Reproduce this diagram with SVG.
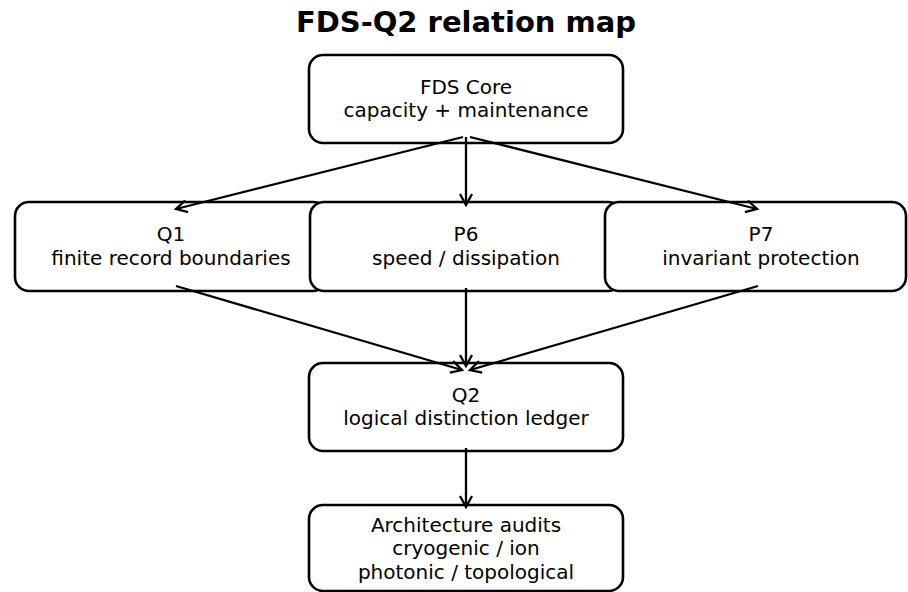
<svg xmlns="http://www.w3.org/2000/svg" width="908" height="592" viewBox="0 0 908 592">
<style>
.box{fill:#fff;stroke:#000;stroke-width:2.6}
.t{font-family:"DejaVu Sans",sans-serif;font-size:20px;text-anchor:middle;fill:#000}
.e{stroke:#000;stroke-width:2.3;fill:none;marker-end:url(#a)}
</style>
<defs>
<marker id="a" viewBox="-12 -7 14 14" refX="0" refY="0" markerWidth="14" markerHeight="14" markerUnits="userSpaceOnUse" orient="auto">
<path d="M-11,-6 L0,0 L-11,6" fill="none" stroke="#000" stroke-width="2.3"/>
</marker>
</defs>
<rect width="908" height="592" fill="#fff"/>
<text x="466" y="32" style="font-family:'DejaVu Sans',sans-serif;font-size:29px;font-weight:bold;text-anchor:middle">FDS-Q2 relation map</text>
<g id="core"><rect class="box" x="309" y="55" width="314" height="88" rx="14"/><text class="t" x="466" y="94">FDS Core</text><text class="t" x="466" y="117">capacity + maintenance</text></g>
<g id="q1"><rect class="box" x="15" y="202" width="312" height="89" rx="14"/><text class="t" x="171" y="241">Q1</text><text class="t" x="171" y="265">finite record boundaries</text></g>
<g id="p6"><rect class="box" x="310" y="202" width="312" height="89" rx="14"/><text class="t" x="466" y="241">P6</text><text class="t" x="466" y="265">speed / dissipation</text></g>
<g id="p7"><rect class="box" x="605" y="202" width="301" height="89" rx="14"/><text class="t" x="761" y="241">P7</text><text class="t" x="761" y="265">invariant protection</text></g>
<g id="q2"><rect class="box" x="309" y="363" width="314" height="88" rx="14"/><text class="t" x="466" y="402">Q2</text><text class="t" x="466" y="425">logical distinction ledger</text></g>
<g id="arch"><rect class="box" x="309" y="505" width="314" height="86" rx="14"/><text class="t" x="466" y="532">Architecture audits</text><text class="t" x="466" y="555">cryogenic / ion</text><text class="t" x="466" y="579">photonic / topological</text></g>
<g id="edges">
<line class="e" x1="463" y1="137" x2="176" y2="209"/>
<line class="e" x1="466" y1="137" x2="466" y2="205"/>
<line class="e" x1="470" y1="137" x2="757" y2="209"/>
<line class="e" x1="176" y1="286" x2="462" y2="370"/>
<line class="e" x1="466" y1="288" x2="466" y2="366"/>
<line class="e" x1="758" y1="286" x2="470" y2="370"/>
<line class="e" x1="466" y1="448" x2="466" y2="507"/>
</g>
</svg>
